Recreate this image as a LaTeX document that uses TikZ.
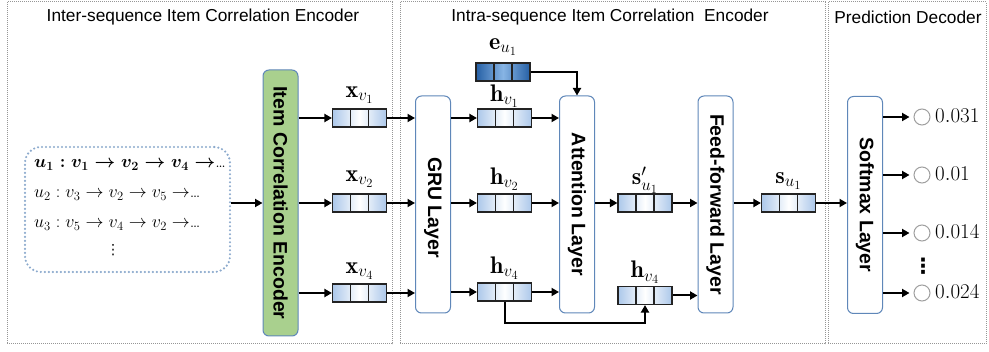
\RequirePackage{fix-cm}
\documentclass[tikz,border=0pt]{standalone}
\usepackage{fontspec}
\setsansfont{Liberation Sans}
\newfontfamily\djv{DejaVu Sans}
\usetikzlibrary{arrows.meta,calc}
\DeclareMathSizes{24}{24}{17}{12.5}
\definecolor{vecblue}{RGB}{172,200,234}
\definecolor{edark}{RGB}{38,96,165}
\definecolor{elight}{RGB}{135,180,228}
\definecolor{icegreen}{RGB}{169,208,142}
\definecolor{layerborder}{RGB}{95,135,185}
\definecolor{seqborder}{RGB}{140,170,205}
\definecolor{panelgray}{RGB}{150,150,150}
\definecolor{vecedge}{RGB}{35,35,35}
\begin{document}
\begin{tikzpicture}[x=1pt,y=-1pt,
 panel/.style={draw=panelgray, line width=1pt, dash pattern=on 1pt off 1pt},
 title/.style={font=\sffamily\fontsize{17.3}{20}\selectfont, inner sep=0pt},
 layer/.style={draw=layerborder, line width=1pt, rounded corners=6pt, fill=white, minimum width=35pt, minimum height=217pt, inner sep=0pt},
 icebox/.style={layer, fill=icegreen, minimum height=266pt},
 layertext/.style={rotate=-90, font=\sffamily\bfseries\fontsize{19.5}{22}\selectfont, inner sep=0pt},
 vec/.style={draw=vecedge, line width=1.1pt, minimum width=54pt, minimum height=18pt, inner sep=0pt,
   left color=vecblue, right color=vecblue, middle color=white,
   path picture={\draw[vecedge, line width=1.1pt]
     ([xshift=-9pt,yshift=-12pt]path picture bounding box.center) -- ++(0pt,24pt)
     ([xshift=9pt,yshift=-12pt]path picture bounding box.center) -- ++(0pt,24pt);}},
 evec/.style={vec, left color=edark, right color=edark, middle color=elight},
 mlabel/.style={font=\fontsize{24}{26}\selectfont, inner sep=0pt},
 seqtext/.style={font=\fontsize{18}{20}\selectfont, inner sep=0pt, anchor=west},
 seqbox/.style={draw=seqborder, line width=2.4pt, dash pattern=on 0pt off 4pt, line cap=round, rounded corners=16pt, minimum width=205pt, minimum height=125pt},
 arr/.style={-{Triangle[length=7.5pt,width=8pt]}, line width=2pt},
 outc/.style={circle, draw=gray!75, line width=1pt, minimum size=16pt, inner sep=0pt},
 num/.style={font=\fontsize{21}{23}\selectfont, inner sep=0pt, anchor=west}
]
\useasboundingbox (0,0) rectangle (989,352);

% panels
\draw[panel] (7,2) rectangle (392,344);
\draw[panel] (400,2) rectangle (825,344);
\draw[panel] (828,2) rectangle (986,344);
\node[title] (t1) at (203,17) {Inter-sequence Item Correlation Encoder};
\node[title] (t2) at (610,17) {Intra-sequence Item Correlation~ Encoder};
\node[title] (t3) at (908,17) {Prediction Decoder};

% sequences
\node[seqbox] (seq) at (127.5,209.5) {};
\node[seqtext] (l1) at (34,165) {{\boldmath$u_1 : v_1 \rightarrow v_2 \rightarrow v_4 \rightarrow$}\ldots};
\node[seqtext] (l2) at (34,195) {$u_2 : v_3 \rightarrow v_2 \rightarrow v_5 \rightarrow$\ldots};
\node[seqtext] (l3) at (34,225) {$u_3 : v_5 \rightarrow v_4 \rightarrow v_2 \rightarrow$\ldots};
\node[inner sep=0pt, font=\djv\fontsize{14}{16}\selectfont] (l4) at (113,250) {⋮};

% item correlation encoder
\node[icebox] (ice) at (280.5,203) {};
\node[layertext] (icet) at (ice.center) {Item Correlation Encoder};
\draw[arr] (seq.east |- ice.west) -- (ice.west);

% x vectors
\node[vec] (xv1) at (359.5,118) {};
\node[vec] (xv2) at (359.5,203) {};
\node[vec] (xv4) at (359.5,293) {};
\node[mlabel] (xl1) at ([yshift=23pt]xv1.center) {$\mathbf{x}_{v_1}$};
\node[mlabel] (xl2) at ([yshift=24pt]xv2.center) {$\mathbf{x}_{v_2}$};
\node[mlabel] (xl4) at ([yshift=22pt]xv4.center) {$\mathbf{x}_{v_4}$};
\draw[arr] (ice.east |- xv1.west) -- (xv1.west);
\draw[arr] (ice.east |- xv2.west) -- (xv2.west);
\draw[arr] (ice.east |- xv4.west) -- (xv4.west);

% GRU
\node[layer] (gru) at (433,204.5) {};
\node[layertext] (grut) at ([yshift=-3pt]gru.center) {GRU Layer};
\draw[arr] (xv1.east) -- (xv1.east -| gru.west);
\draw[arr] (xv2.east) -- (xv2.east -| gru.west);
\draw[arr] (xv4.east) -- (xv4.east -| gru.west);

% h vectors
\node[vec] (hv1) at (504.5,118) {};
\node[vec] (hv2) at (504.5,203) {};
\node[vec] (hv4) at (504.5,292) {};
\node[mlabel] (hl1) at ([yshift=22pt]hv1.center) {$\mathbf{h}_{v_1}$};
\node[mlabel] (hl2) at ([yshift=24pt]hv2.center) {$\mathbf{h}_{v_2}$};
\node[mlabel] (hl4) at ([yshift=24pt]hv4.center) {$\mathbf{h}_{v_4}$};
\draw[arr] (gru.east |- hv1.west) -- (hv1.west);
\draw[arr] (gru.east |- hv2.west) -- (hv2.west);
\draw[arr] (gru.east |- hv4.west) -- (hv4.west);

% e vector
\node[evec] (eu) at (503,72) {};
\node[mlabel] (el) at ([yshift=25pt]eu.center) {$\mathbf{e}_{u_1}$};

% attention
\node[layer] (att) at (577,204.5) {};
\node[layertext] (attt) at (att.center) {Attention Layer};
\draw[arr] (hv1.east) -- (hv1.east -| att.west);
\draw[arr] (hv2.east) -- (hv2.east -| att.west);
\draw[arr] (hv4.east) -- (hv4.east -| att.west);
\draw[arr] (eu.east) -| (att.north);

% s' and h_v4 copy
\node[vec] (sp) at (645,203) {};
\node[mlabel] (spl) at ([yshift=23pt]sp.center) {$\mathbf{s}'_{u_1}$};
\node[vec] (hv4b) at (645,295.5) {};
\node[mlabel] (hl4b) at ([yshift=23pt]hv4b.center) {$\mathbf{h}_{v_4}$};
\draw[arr] (att.east |- sp.west) -- (sp.west);
\coordinate (bend) at (645,323);
\draw[arr] (hv4.south) |- (bend) -- (hv4b.south);

% feed-forward
\node[layer] (ff) at (715.5,204.5) {};
\node[layertext] (fft) at (ff.center) {Feed-forward Layer};
\draw[arr] (sp.east) -- (sp.east -| ff.west);
\draw[arr] (hv4b.east) -- (hv4b.east -| ff.west);

% s vector
\node[vec] (su) at (788.5,203) {};
\node[mlabel] (sul) at ([yshift=22pt]su.center) {$\mathbf{s}_{u_1}$};
\draw[arr] (ff.east |- su.west) -- (su.west);

% softmax
\node[layer] (smx) at (865,205) {};
\node[layertext] (smxt) at (smx.center) {Softmax Layer};
\draw[arr] (su.east) -- (su.east -| smx.west);

% outputs
\node[outc] (o1) at (922,117) {};
\node[outc] (o2) at (922,175) {};
\node[outc] (o3) at (922,233) {};
\node[outc] (o4) at (922,293) {};
\node[num] (n1) at (935,116) {$0.031$};
\node[num] (n2) at (935,174) {$0.01$};
\node[num] (n3) at (935,232) {$0.014$};
\node[num] (n4) at (935,292) {$0.024$};
\node[inner sep=0pt, font=\djv\bfseries\fontsize{21}{23}\selectfont] (od) at (923,266) {⋮};
\draw[arr, shorten >=4pt] (smx.east |- o1.west) -- (o1.west);
\draw[arr, shorten >=4pt] (smx.east |- o2.west) -- (o2.west);
\draw[arr, shorten >=4pt] (smx.east |- o3.west) -- (o3.west);
\draw[arr, shorten >=4pt] (smx.east |- o4.west) -- (o4.west);
\end{tikzpicture}
\end{document}
